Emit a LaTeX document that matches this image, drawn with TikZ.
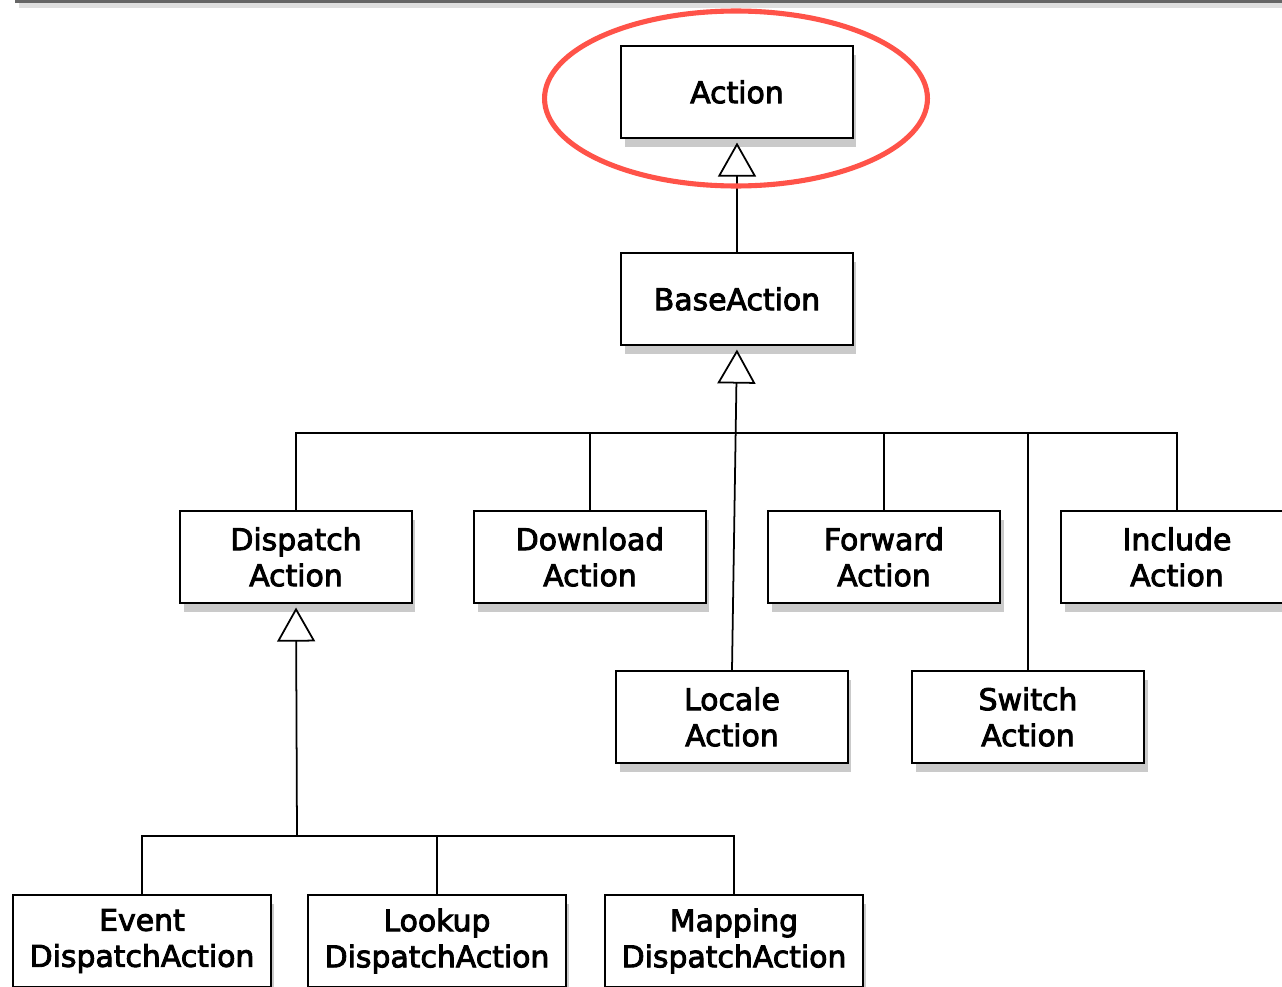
\documentclass[tikz,border=0pt]{standalone}
\usepackage{fontspec}
\newfontfamily\boxfont[FakeBold=3]{DejaVu Sans}
\usetikzlibrary{arrows.meta,shadows}
\definecolor{ringred}{RGB}{255,83,73}
\begin{document}
\begin{tikzpicture}[x=0.02cm,y=-0.02cm]
        \tikzstyle{cls}=[rectangle,draw=black,line width=1.2pt,fill=white,minimum width=4.64cm,minimum height=1.84cm,align=center,font=\boxfont\fontsize{17pt}{20.5pt}\selectfont,drop shadow={shadow xshift=2pt,shadow yshift=-5pt,opacity=0.35,fill=black!60}]
        \tikzstyle{wide}=[cls,minimum width=5.16cm]
        \tikzstyle{edge}=[draw,line width=1pt]
        \tikzstyle{isa}=[edge,-{Triangle[fill=white,length=0.68cm,width=0.76cm]},shorten >=2pt]
        \useasboundingbox (0,0) rectangle (1282,987);
        \clip (0,0) rectangle (1282,987);
        % frame edge at the top
        \fill[black!60,drop shadow={shadow yshift=-3pt,opacity=0.25}] (15,-20) rectangle (1300,3);
       \begin{scope}
         \node [cls] (act) at (737,92) {Action};
         \node [cls] (base) at (737,299) {BaseAction};
         \node [cls] (disp) at (296,557) {Dispatch\\Action};
         \node [cls] (down) at (590,557) {Download\\Action};
         \node [cls] (fwd) at (884,557) {Forward\\Action};
         \node [cls] (incl) at (1177,557) {Include\\Action};
         \node [cls] (loc) at (732,717) {Locale\\Action};
         \node [cls] (swi) at (1028,717) {Switch\\Action};
         \node [wide] (evt) at (142,941) {Event\\DispatchAction};
         \node [wide] (look) at (437,941) {Lookup\\DispatchAction};
         \node [wide] (map) at (734,941) {Mapping\\DispatchAction};
         \coordinate (bus1) at (737,433);
         \coordinate (bus2) at (297,836);
         \path[isa] (base) -- (act);
         \path[isa] (loc.north) -- (base.south);
         \path[edge] (disp.north) |- (bus1);
         \path[edge] (down.north) |- (bus1);
         \path[edge] (fwd.north) |- (bus1);
         \path[edge] (incl.north) |- (bus1);
         \path[edge] (swi.north) |- (bus1);
         \path[isa] (bus2) -- (disp.south);
         \path[edge] (evt.north) |- (bus2);
         \path[edge] (look.north) |- (bus2);
         \path[edge] (map.north) |- (bus2);
        \end{scope}
        % highlight ring
        \draw[ringred,line width=2.9pt] (736,98.5) ellipse [x radius=3.83cm,y radius=1.75cm];
      \end{tikzpicture}
\end{document}
